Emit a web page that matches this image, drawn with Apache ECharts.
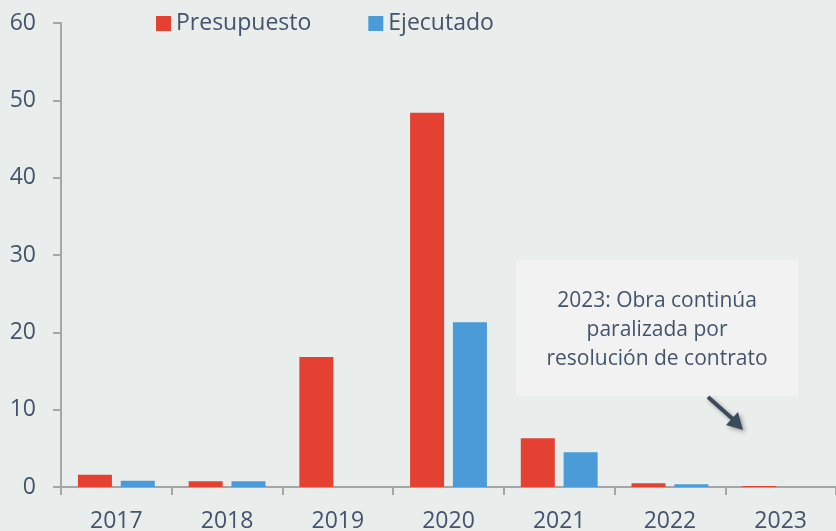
<!DOCTYPE html>
<html>
<head>
<meta charset="utf-8">
<script src="https://cdn.jsdelivr.net/npm/echarts@6/dist/echarts.min.js"></script>
<style>
  html, body { margin: 0; padding: 0; background: #e9edec; }
  #chart { width: 836px; height: 531px; }
</style>
</head>
<body>
<div id="chart"></div>
<script>
  const years = ['2017', '2018', '2019', '2020', '2021', '2022', '2023']
  const presupuesto = [1.6, 0.75, 16.8, 48.4, 6.3, 0.5, 0.12]
  const ejecutado = [0.8, 0.75, 0, 21.3, 4.5, 0.35, 0]
  const yTicks = { min: 0, max: 60, interval: 10 }

  const textColor = '#44546a'
  const axisColor = '#a6a6a6'
  const fontFamily = '"Open Sans", "Noto Sans", sans-serif'

  const chart = echarts.init(document.getElementById('chart'))

  chart.setOption({
    backgroundColor: '#e9edec',
    animation: false,
    textStyle: { fontFamily },
    legend: {
      left: 151,
      top: 7,
      icon: 'rect',
      itemWidth: 15,
      itemHeight: 15,
      itemGap: 57,
      textStyle: { color: textColor, fontSize: 23, fontFamily }
    },
    grid: {
      left: 61,
      right: 0,
      top: 23,
      bottom: 44,
      containLabel: false,
      outerBoundsMode: 'none'
    },
    xAxis: {
      type: 'category',
      data: years,
      axisLine: { lineStyle: { color: axisColor, width: 2 } },
      axisTick: { show: true, length: 8, lineStyle: { color: axisColor, width: 2 } },
      axisLabel: { color: textColor, fontSize: 23, margin: 23, fontFamily }
    },
    yAxis: {
      type: 'value',
      min: yTicks.min,
      max: yTicks.max,
      interval: yTicks.interval,
      splitLine: { show: false },
      axisLine: { show: true, lineStyle: { color: axisColor, width: 2 } },
      axisTick: { show: true, length: 8, lineStyle: { color: axisColor, width: 2 } },
      axisLabel: { color: textColor, fontSize: 23, margin: 25, fontFamily }
    },
    series: [{
      name: 'Presupuesto',
      type: 'bar',
      data: presupuesto,
      barWidth: 34,
      barGap: '26%',
      itemStyle: { color: '#e54133' }
    }, {
      name: 'Ejecutado',
      type: 'bar',
      data: ejecutado,
      barWidth: 34,
      itemStyle: { color: '#4a9bd7' }
    }],
    graphic: [{
      type: 'rect',
      left: 516,
      top: 260,
      shape: { width: 282, height: 136 },
      style: { fill: '#f2f2f2' }
    }, {
      type: 'text',
      style: {
        text: '2023: Obra continúa\nparalizada por\nresolución de contrato',
        x: 657,
        y: 330,
        align: 'center',
        verticalAlign: 'middle',
        fill: textColor,
        font: '21px ' + fontFamily,
        lineHeight: 29
      }
    }, {
      type: 'line',
      shape: { x1: 708, y1: 397, x2: 735, y2: 421 },
      style: {
        stroke: '#3d4a5c',
        lineWidth: 4,
        shadowBlur: 4,
        shadowColor: 'rgba(0,0,0,0.35)',
        shadowOffsetX: 2,
        shadowOffsetY: 2
      }
    }, {
      type: 'polygon',
      shape: { points: [[743, 430], [726, 425], [738, 412]] },
      style: {
        fill: '#3d4a5c',
        shadowBlur: 4,
        shadowColor: 'rgba(0,0,0,0.35)',
        shadowOffsetX: 2,
        shadowOffsetY: 2
      }
    }]
  })
</script>
</body>
</html>
